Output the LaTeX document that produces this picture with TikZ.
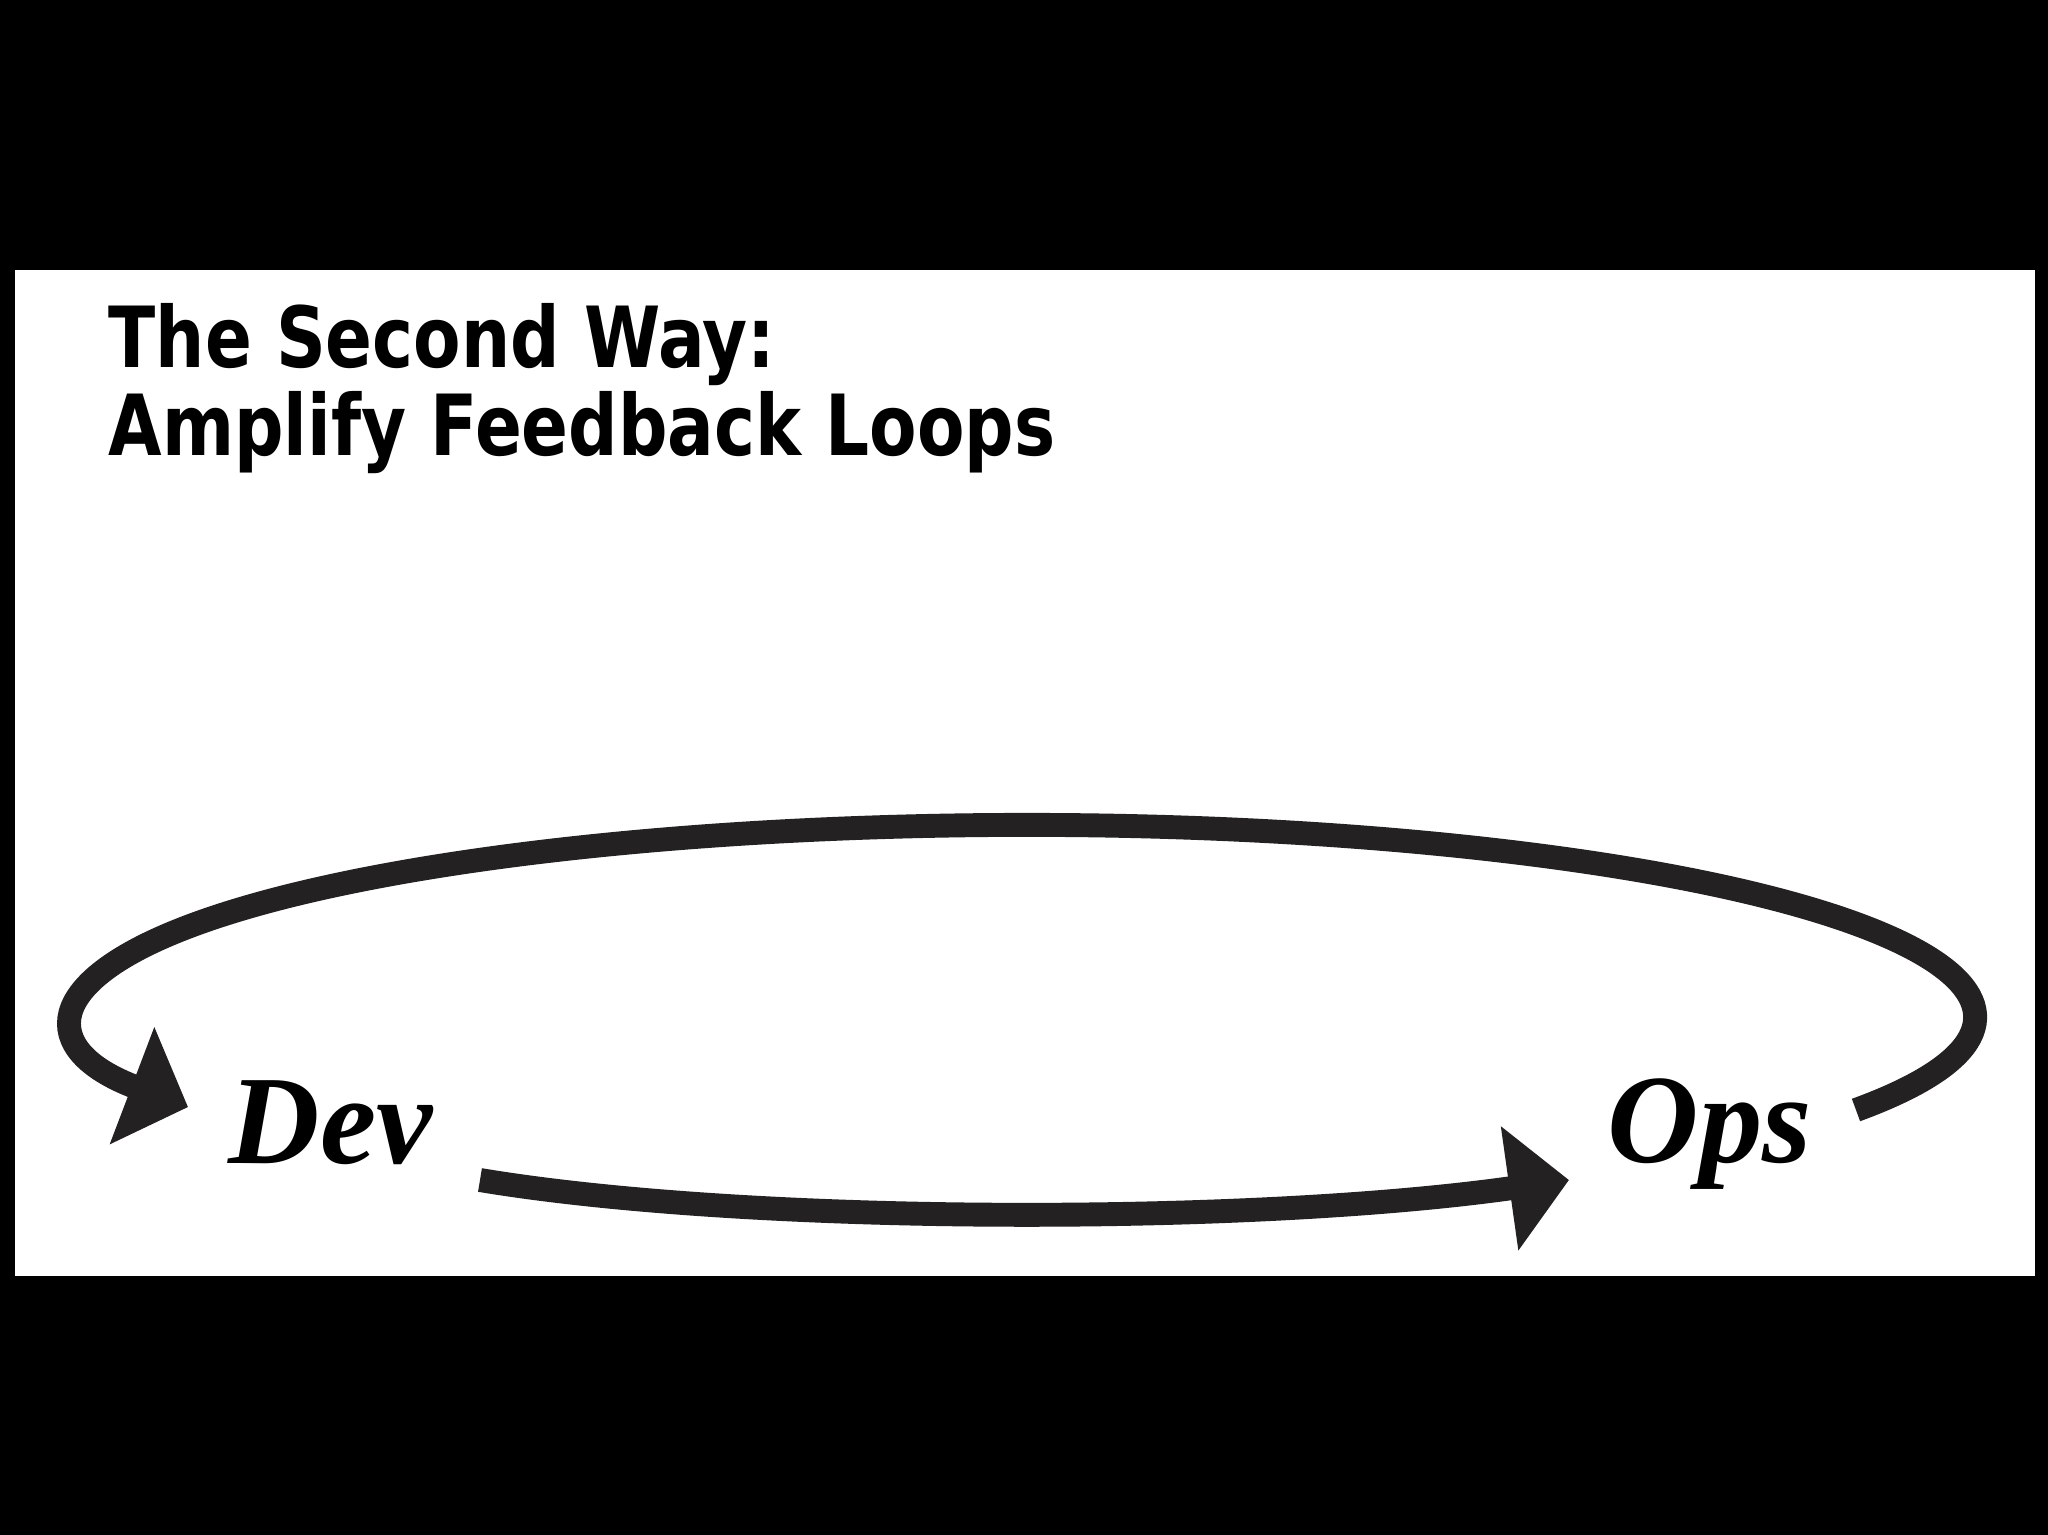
\documentclass[tikz,border=0pt]{standalone}
\usepackage{fontspec}
\usetikzlibrary{arrows.meta}
\newfontfamily\titlefont[FakeStretch=0.82]{DejaVu Sans Bold}
\newfontfamily\labelfont{Liberation Serif Bold Italic}
\definecolor{loopgray}{RGB}{35,33,34}
\tikzset{
  slide title/.style={font=\titlefont\fontsize{24}{26}\selectfont,inner sep=0pt,anchor=base west},
  slide label/.style={font=\labelfont\fontsize{36}{40}\selectfont,inner sep=0pt,anchor=base west},
  flow arrow/.style={-{Triangle[width=12.2mm,length=6mm]},line width=6.8pt,draw=loopgray}
}

\begin{document}
\begin{tikzpicture}[x=1cm,y=1cm]
  \useasboundingbox (0,0) rectangle (20.48,-15.35);
  \fill[black] (0,0) rectangle (20.48,-15.35);
  \fill[white] (0.155,-2.70) rectangle (20.35,-12.76);

  \node[slide title] (title) at (1.08,-3.67) {The Second Way:};
  \node[slide title] (subtitle) at (1.08,-4.55) {Amplify Feedback Loops};

  \node[slide label] (dev) at (2.28,-11.63) {Dev};
  \node[slide label] (ops) at (16.07,-11.62) {Ops};

  \coordinate (dev out) at (4.80,-11.80);
  \coordinate (ops in) at (15.69,-11.80);
  \coordinate (loop start) at (18.56,-11.10);

  \draw[flow arrow] (dev out) .. controls (7.5,-12.25) and (12.5,-12.25) .. (ops in);
  \draw[flow arrow] (loop start) arc[start angle=-29,end angle=208,x radius=9.49,y radius=1.92];
\end{tikzpicture}
\end{document}
